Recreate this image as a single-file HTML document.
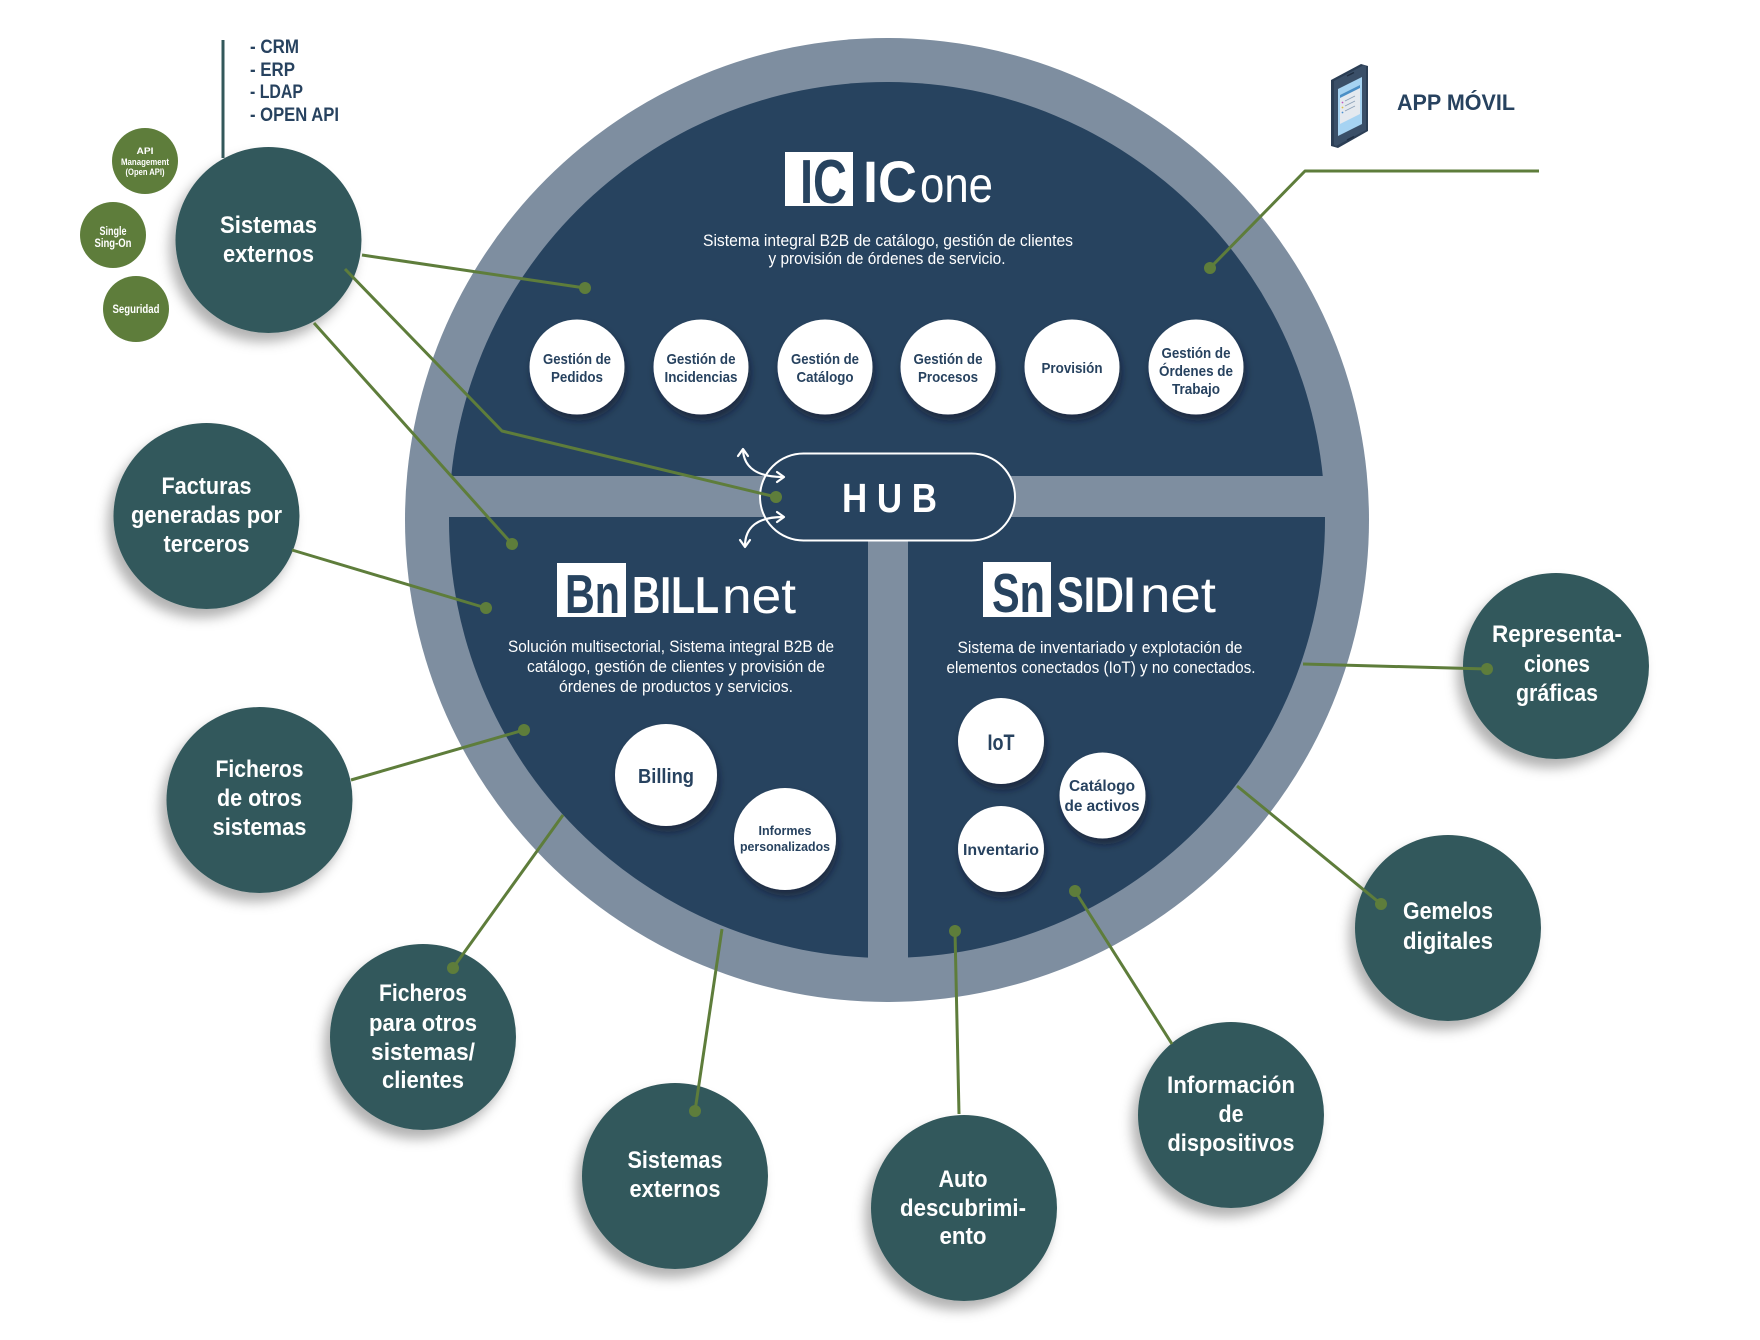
<!DOCTYPE html>
<html><head><meta charset="utf-8">
<style>
html,body{margin:0;padding:0;background:#fff;}
svg{display:block;}
text{font-family:"Liberation Sans","DejaVu Sans",sans-serif;}
.w{fill:#fff;font-weight:bold;}
.wr{fill:#fff;font-weight:normal;}
.n{fill:#27425f;font-weight:bold;}
</style></head>
<body>
<svg width="1760" height="1340" viewBox="0 0 1760 1340" xmlns="http://www.w3.org/2000/svg">
<defs>
  <filter id="sh" x="-40%" y="-40%" width="180%" height="180%">
    <feDropShadow dx="-6" dy="9" stdDeviation="6" flood-color="#000" flood-opacity="0.3"/>
  </filter>
  <filter id="shw" x="-40%" y="-40%" width="180%" height="180%">
    <feDropShadow dx="2" dy="6" stdDeviation="4" flood-color="#0a1726" flood-opacity="0.55"/>
  </filter>
  <clipPath id="ic"><circle cx="887" cy="520" r="438"/></clipPath>
</defs>

<!-- big circle -->
<circle cx="887" cy="520" r="482" fill="#7e8ea0"/>
<g clip-path="url(#ic)" fill="#27435f">
  <rect x="400" y="70" width="980" height="406"/>
  <rect x="400" y="517" width="468" height="460"/>
  <rect x="908" y="517" width="480" height="460"/>
</g>

<!-- ICone logo -->
<rect x="785" y="152" width="68" height="54" fill="#fff"/>
<text x="800" y="203" class="n" font-size="62" textLength="47" lengthAdjust="spacingAndGlyphs" style="fill:#27435f">IC</text>
<text x="863" y="202" class="w" font-size="58" textLength="54" lengthAdjust="spacingAndGlyphs">IC</text>
<text x="920" y="202" class="wr" font-size="50" textLength="73" lengthAdjust="spacingAndGlyphs">one</text>
<text x="888" y="246" class="wr" font-size="17" text-anchor="middle" textLength="370" lengthAdjust="spacingAndGlyphs">Sistema integral B2B de catálogo, gestión de clientes</text>
<text x="887" y="264" class="wr" font-size="17" text-anchor="middle" textLength="237" lengthAdjust="spacingAndGlyphs">y provisión de órdenes de servicio.</text>

<!-- ICone white circles -->
<g fill="#fff" filter="url(#shw)">
  <circle cx="577" cy="367" r="47.5"/>
  <circle cx="701" cy="367" r="47.5"/>
  <circle cx="825" cy="367" r="47.5"/>
  <circle cx="948" cy="367" r="47.5"/>
  <circle cx="1072" cy="367" r="47.5"/>
  <circle cx="1196" cy="367" r="47.5"/>
</g>
<g class="n" font-size="15" text-anchor="middle">
  <text x="577" y="364" class="n" textLength="68" lengthAdjust="spacingAndGlyphs">Gestión de</text>
  <text x="577" y="382" class="n" textLength="52" lengthAdjust="spacingAndGlyphs">Pedidos</text>
  <text x="701" y="364" class="n" textLength="69" lengthAdjust="spacingAndGlyphs">Gestión de</text>
  <text x="701" y="382" class="n" textLength="73" lengthAdjust="spacingAndGlyphs">Incidencias</text>
  <text x="825" y="364" class="n" textLength="68" lengthAdjust="spacingAndGlyphs">Gestión de</text>
  <text x="825" y="382" class="n" textLength="57" lengthAdjust="spacingAndGlyphs">Catálogo</text>
  <text x="948" y="364" class="n" textLength="69" lengthAdjust="spacingAndGlyphs">Gestión de</text>
  <text x="948" y="382" class="n" textLength="60" lengthAdjust="spacingAndGlyphs">Procesos</text>
  <text x="1072" y="373" class="n" textLength="61" lengthAdjust="spacingAndGlyphs">Provisión</text>
  <text x="1196" y="358" class="n" textLength="69" lengthAdjust="spacingAndGlyphs">Gestión de</text>
  <text x="1196" y="376" class="n" textLength="74" lengthAdjust="spacingAndGlyphs">Órdenes de</text>
  <text x="1196" y="394" class="n" textLength="48" lengthAdjust="spacingAndGlyphs">Trabajo</text>
</g>

<!-- BILLnet logo -->
<rect x="557" y="563" width="69" height="54" fill="#fff"/>
<text x="565" y="613" class="n" font-size="55" textLength="55" lengthAdjust="spacingAndGlyphs" style="fill:#27435f">Bn</text>
<text x="632" y="613" class="w" font-size="52" textLength="87" lengthAdjust="spacingAndGlyphs">BILL</text>
<text x="722" y="613" class="wr" font-size="50" textLength="74" lengthAdjust="spacingAndGlyphs">net</text>
<text x="671" y="652" class="wr" font-size="17" text-anchor="middle" textLength="326" lengthAdjust="spacingAndGlyphs">Solución multisectorial, Sistema integral B2B de</text>
<text x="676" y="672" class="wr" font-size="17" text-anchor="middle" textLength="298" lengthAdjust="spacingAndGlyphs">catálogo, gestión de clientes y provisión de</text>
<text x="676" y="692" class="wr" font-size="17" text-anchor="middle" textLength="234" lengthAdjust="spacingAndGlyphs">órdenes de productos y servicios.</text>

<!-- BILLnet circles -->
<g fill="#fff" filter="url(#shw)">
  <circle cx="666" cy="775" r="51"/>
  <circle cx="785" cy="839" r="51"/>
</g>
<text x="666" y="783" class="n" font-size="20" text-anchor="middle" textLength="56" lengthAdjust="spacingAndGlyphs">Billing</text>
<text x="785" y="835" class="n" font-size="12.5" text-anchor="middle" textLength="53" lengthAdjust="spacingAndGlyphs">Informes</text>
<text x="785" y="851" class="n" font-size="12.5" text-anchor="middle" textLength="90" lengthAdjust="spacingAndGlyphs">personalizados</text>

<!-- SIDInet logo -->
<rect x="983" y="562" width="68" height="55" fill="#fff"/>
<text x="992" y="612" class="n" font-size="55" textLength="53" lengthAdjust="spacingAndGlyphs" style="fill:#27435f">Sn</text>
<text x="1057" y="612" class="w" font-size="50" textLength="78" lengthAdjust="spacingAndGlyphs">SIDI</text>
<text x="1140" y="612" class="wr" font-size="50" textLength="76" lengthAdjust="spacingAndGlyphs">net</text>
<text x="1100" y="653" class="wr" font-size="17" text-anchor="middle" textLength="285" lengthAdjust="spacingAndGlyphs">Sistema de inventariado y explotación de</text>
<text x="1101" y="673" class="wr" font-size="17" text-anchor="middle" textLength="309" lengthAdjust="spacingAndGlyphs">elementos conectados (IoT) y no conectados.</text>

<!-- SIDInet circles -->
<g fill="#fff" filter="url(#shw)">
  <circle cx="1001" cy="741" r="43"/>
  <circle cx="1102.5" cy="795.5" r="43"/>
  <circle cx="1001" cy="849" r="43"/>
</g>
<text x="1001" y="750" class="n" font-size="22" text-anchor="middle" textLength="27" lengthAdjust="spacingAndGlyphs">IoT</text>
<text x="1102" y="791" class="n" font-size="16" text-anchor="middle" textLength="66" lengthAdjust="spacingAndGlyphs">Catálogo</text>
<text x="1102" y="811" class="n" font-size="16" text-anchor="middle" textLength="75" lengthAdjust="spacingAndGlyphs">de activos</text>
<text x="1001" y="855" class="n" font-size="16" text-anchor="middle" textLength="76" lengthAdjust="spacingAndGlyphs">Inventario</text>

<!-- HUB -->
<rect x="760" y="453.5" width="255" height="87" rx="43.5" ry="43.5" fill="#27435f" stroke="#fff" stroke-width="2"/>
<text x="842" y="512" class="w" font-size="41" textLength="95" lengthAdjust="spacingAndGlyphs">H U B</text>
<g fill="none" stroke="#fff" stroke-width="2.2" stroke-linecap="round" stroke-linejoin="round">
  <path d="M743,450 C744,468 758,477 783,477"/>
  <polyline points="738,456 743,449 748,456"/>
  <polyline points="777,472 784,477 777,482"/>
  <path d="M783,517 C758,517 745,527 745,546"/>
  <polyline points="777,512 784,517 777,522"/>
  <polyline points="740,540 745,547 750,540"/>
</g>

<!-- teal circles -->
<g fill="#33585b" filter="url(#sh)">
  <circle cx="268.5" cy="240" r="93"/>
  <circle cx="206.5" cy="516" r="93"/>
  <circle cx="259.5" cy="800" r="93"/>
  <circle cx="423" cy="1037" r="93"/>
  <circle cx="675" cy="1176" r="93"/>
  <circle cx="964" cy="1208" r="93"/>
  <circle cx="1231" cy="1115" r="93"/>
  <circle cx="1448" cy="928" r="93"/>
  <circle cx="1556" cy="666" r="93"/>
</g>

<!-- green small circles -->
<g fill="#5e7d3b">
  <circle cx="145" cy="161" r="33"/>
  <circle cx="113" cy="235" r="33"/>
  <circle cx="136" cy="309" r="33"/>
</g>
<g text-anchor="middle">
  <text x="145" y="154" class="w" font-size="9.5" textLength="17" lengthAdjust="spacingAndGlyphs">API</text>
  <text x="145" y="165" class="w" font-size="9.5" textLength="48" lengthAdjust="spacingAndGlyphs">Management</text>
  <text x="145" y="175" class="w" font-size="9.5" textLength="39" lengthAdjust="spacingAndGlyphs">(Open API)</text>
  <text x="113" y="235" class="w" font-size="11.5" textLength="27" lengthAdjust="spacingAndGlyphs">Single</text>
  <text x="113" y="247" class="w" font-size="11.5" textLength="37" lengthAdjust="spacingAndGlyphs">Sing-On</text>
  <text x="136" y="313" class="w" font-size="11.5" textLength="47" lengthAdjust="spacingAndGlyphs">Seguridad</text>
</g>

<!-- teal circle labels -->
<g text-anchor="middle" font-size="24">
  <text x="268.5" y="233" class="w" textLength="97" lengthAdjust="spacingAndGlyphs">Sistemas</text>
  <text x="268.5" y="262" class="w" textLength="91" lengthAdjust="spacingAndGlyphs">externos</text>

  <text x="206.5" y="494" class="w" textLength="90" lengthAdjust="spacingAndGlyphs">Facturas</text>
  <text x="206.5" y="523" class="w" textLength="151" lengthAdjust="spacingAndGlyphs">generadas por</text>
  <text x="206.5" y="552" class="w" textLength="86" lengthAdjust="spacingAndGlyphs">terceros</text>

  <text x="259.5" y="777" class="w" textLength="88" lengthAdjust="spacingAndGlyphs">Ficheros</text>
  <text x="259.5" y="806" class="w" textLength="85" lengthAdjust="spacingAndGlyphs">de otros</text>
  <text x="259.5" y="835" class="w" textLength="94" lengthAdjust="spacingAndGlyphs">sistemas</text>

  <text x="423" y="1001" class="w" textLength="88" lengthAdjust="spacingAndGlyphs">Ficheros</text>
  <text x="423" y="1031" class="w" textLength="108" lengthAdjust="spacingAndGlyphs">para otros</text>
  <text x="423" y="1060" class="w" textLength="104" lengthAdjust="spacingAndGlyphs">sistemas/</text>
  <text x="423" y="1088" class="w" textLength="82" lengthAdjust="spacingAndGlyphs">clientes</text>

  <text x="675" y="1168" class="w" textLength="95" lengthAdjust="spacingAndGlyphs">Sistemas</text>
  <text x="675" y="1197" class="w" textLength="91" lengthAdjust="spacingAndGlyphs">externos</text>

  <text x="963" y="1187" class="w" textLength="49" lengthAdjust="spacingAndGlyphs">Auto</text>
  <text x="963" y="1216" class="w" textLength="126" lengthAdjust="spacingAndGlyphs">descubrimi-</text>
  <text x="963" y="1244" class="w" textLength="47" lengthAdjust="spacingAndGlyphs">ento</text>

  <text x="1231" y="1093" class="w" textLength="128" lengthAdjust="spacingAndGlyphs">Información</text>
  <text x="1231" y="1122" class="w" textLength="25" lengthAdjust="spacingAndGlyphs">de</text>
  <text x="1231" y="1151" class="w" textLength="127" lengthAdjust="spacingAndGlyphs">dispositivos</text>

  <text x="1448" y="919" class="w" textLength="90" lengthAdjust="spacingAndGlyphs">Gemelos</text>
  <text x="1448" y="949" class="w" textLength="90" lengthAdjust="spacingAndGlyphs">digitales</text>

  <text x="1557" y="642" class="w" textLength="130" lengthAdjust="spacingAndGlyphs">Representa-</text>
  <text x="1557" y="672" class="w" textLength="66" lengthAdjust="spacingAndGlyphs">ciones</text>
  <text x="1557" y="701" class="w" textLength="82" lengthAdjust="spacingAndGlyphs">gráficas</text>
</g>

<!-- connectors -->
<g fill="none" stroke="#5e7d3b" stroke-width="3" stroke-linejoin="round">
  <polyline points="362,255 585,288"/>
  <polyline points="345,269 502,431 776,497"/>
  <polyline points="314,323 512,544"/>
  <polyline points="292,550 486,608"/>
  <polyline points="351,780 524,730"/>
  <polyline points="563,815 453,968"/>
  <polyline points="722,929 695,1111"/>
  <polyline points="955,931 959,1114"/>
  <polyline points="1075,891 1172,1044"/>
  <polyline points="1237,786 1381,904"/>
  <polyline points="1303,664 1487,669"/>
  <polyline points="1539,171 1305,171 1210,268"/>
</g>
<g fill="#5e7d3b">
  <circle cx="585" cy="288" r="6"/>
  <circle cx="776" cy="497" r="6"/>
  <circle cx="512" cy="544" r="6"/>
  <circle cx="486" cy="608" r="6"/>
  <circle cx="524" cy="730" r="6"/>
  <circle cx="453" cy="968" r="6"/>
  <circle cx="695" cy="1111" r="6"/>
  <circle cx="955" cy="931" r="6"/>
  <circle cx="1075" cy="891" r="6"/>
  <circle cx="1381" cy="904" r="6"/>
  <circle cx="1487" cy="669" r="6"/>
  <circle cx="1210" cy="268" r="6"/>
</g>

<!-- top list -->
<line x1="223" y1="40" x2="223" y2="158" stroke="#33585b" stroke-width="3"/>
<g font-size="19">
  <text x="250" y="53" class="n" textLength="49" lengthAdjust="spacingAndGlyphs">- CRM</text>
  <text x="250" y="76" class="n" textLength="45" lengthAdjust="spacingAndGlyphs">- ERP</text>
  <text x="250" y="98" class="n" textLength="53" lengthAdjust="spacingAndGlyphs">- LDAP</text>
  <text x="250" y="121" class="n" textLength="89" lengthAdjust="spacingAndGlyphs">- OPEN API</text>
</g>

<!-- phone icon -->
<g>
  <polygon points="1331,80 1361,64 1368,66 1368,131 1338,148 1331,146" fill="#2b3e55"/>
  <polygon points="1334,81 1364,65 1366,66 1366,130 1336,146 1334,145" fill="#3a4f68"/>
  <polygon points="1338,89 1362,77 1362,124 1338,136" fill="#a6d3f2"/>
  <polygon points="1340,95 1360,85 1360,114 1340,124" fill="#e4e9ef"/>
  <polygon points="1340,95 1360,85 1360,88 1340,98" fill="#4b8fc6"/>
  <g stroke="#8aa0b8" stroke-width="0.8">
    <line x1="1345" y1="101" x2="1355" y2="96"/>
    <line x1="1345" y1="106" x2="1355" y2="101"/>
    <line x1="1345" y1="111" x2="1355" y2="106"/>
  </g>
  <circle cx="1342.5" cy="102.5" r="0.9" fill="#c05ac0"/>
  <circle cx="1342.5" cy="107.5" r="0.9" fill="#e0c040"/>
  <circle cx="1342.5" cy="112.5" r="0.9" fill="#4a90d0"/>
  <line x1="1347" y1="76" x2="1354" y2="72.5" stroke="#1f2e40" stroke-width="1.5"/>
  <line x1="1347" y1="140" x2="1354" y2="136.5" stroke="#1f2e40" stroke-width="1.5"/>
</g>
<text x="1397" y="110" class="n" font-size="22" textLength="118" lengthAdjust="spacingAndGlyphs">APP MÓVIL</text>
</svg>
</body></html>
